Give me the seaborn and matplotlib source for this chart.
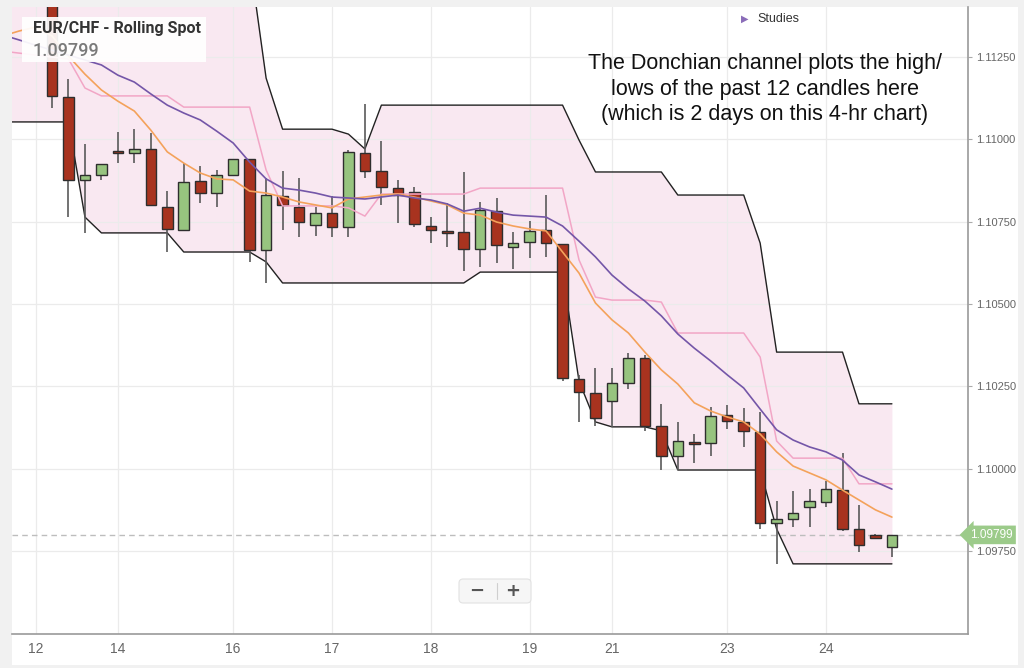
import numpy as np
import pandas as pd
import matplotlib
matplotlib.use("Agg")
import matplotlib.pyplot as plt
import matplotlib.transforms as mtransforms
from matplotlib.patches import Rectangle, FancyBboxPatch
from matplotlib.lines import Line2D
import seaborn as sns

# ---------------- data ----------------
symbol = "EUR/CHF - Rolling Spot"
last_price = 1.09799
note = ("The Donchian channel plots the high/\n"
        "lows of the past 12 candles here\n"
        "(which is 2 days on this 4-hr chart)")

opens = [1.11484, 1.11129, 1.10877, 1.10892, 1.10965, 1.10958, 1.10971, 1.10795,
         1.10725, 1.10874, 1.10837, 1.10892, 1.10940, 1.10664, 1.10828, 1.10795,
         1.10740, 1.10776, 1.10734, 1.10958, 1.10904, 1.10852, 1.10840, 1.10737,
         1.10722, 1.10719, 1.10667, 1.10782, 1.10673, 1.10688, 1.10725, 1.10682,
         1.10272, 1.10230, 1.10206, 1.10260, 1.10336, 1.10130, 1.10039, 1.10081,
         1.10078, 1.10163, 1.10142, 1.10111, 1.09835, 1.09847, 1.09884, 1.09899,
         1.09935, 1.09817, 1.09800, 1.09762]
highs = [1.11548, 1.11183, 1.10986, 1.10926, 1.11022, 1.11031, 1.11019, 1.10843,
         1.10928, 1.10919, 1.10907, 1.10941, 1.10941, 1.10883, 1.10904, 1.10883,
         1.10795, 1.10828, 1.10968, 1.11107, 1.10995, 1.10877, 1.10855, 1.10764,
         1.10807, 1.10901, 1.10810, 1.10822, 1.10719, 1.10752, 1.10831, 1.10683,
         1.10285, 1.10306, 1.10306, 1.10351, 1.10345, 1.10197, 1.10142, 1.10105,
         1.10187, 1.10193, 1.10184, 1.10172, 1.09902, 1.09932, 1.09938, 1.09963,
         1.10048, 1.09890, 1.09801, 1.09800]
lows = [1.11095, 1.10764, 1.10716, 1.10877, 1.10928, 1.10928, 1.10799, 1.10658,
        1.10724, 1.10807, 1.10795, 1.10891, 1.10628, 1.10564, 1.10725, 1.10704,
        1.10707, 1.10704, 1.10704, 1.10883, 1.10801, 1.10746, 1.10734, 1.10685,
        1.10673, 1.10600, 1.10612, 1.10625, 1.10606, 1.10640, 1.10643, 1.10266,
        1.10142, 1.10130, 1.10127, 1.10242, 1.10115, 1.09996, 1.09996, 1.10017,
        1.10039, 1.10121, 1.10066, 1.09817, 1.09711, 1.09823, 1.09823, 1.09884,
        1.09811, 1.09747, 1.09789, 1.09732]
closes = [1.11132, 1.10877, 1.10892, 1.10925, 1.10958, 1.10971, 1.10801, 1.10728,
          1.10870, 1.10837, 1.10892, 1.10940, 1.10664, 1.10831, 1.10801, 1.10749,
          1.10776, 1.10734, 1.10962, 1.10904, 1.10855, 1.10831, 1.10743, 1.10725,
          1.10716, 1.10667, 1.10785, 1.10679, 1.10685, 1.10722, 1.10685, 1.10275,
          1.10233, 1.10154, 1.10260, 1.10336, 1.10130, 1.10039, 1.10084, 1.10075,
          1.10160, 1.10145, 1.10115, 1.09835, 1.09847, 1.09866, 1.09902, 1.09938,
          1.09817, 1.09768, 1.09790, 1.09799]

# indicator series start 3 candles before the first visible candle
indicator_first_candle = -3
ma_fast = [1.11314, 1.11329, 1.11341, 1.11314, 1.11253, 1.11198, 1.11150, 1.11116,
           1.11086, 1.11028, 1.10962, 1.10928, 1.10898, 1.10880, 1.10877, 1.10843,
           1.10837, 1.10825, 1.10810, 1.10801, 1.10792, 1.10819, 1.10825, 1.10831,
           1.10834, 1.10825, 1.10813, 1.10801, 1.10776, 1.10770, 1.10749, 1.10737,
           1.10728, 1.10722, 1.10658, 1.10594, 1.10503, 1.10452, 1.10412, 1.10354,
           1.10300, 1.10257, 1.10200, 1.10175, 1.10157, 1.10142, 1.10105, 1.10051,
           1.10008, 1.09987, 1.09966, 1.09935, 1.09905, 1.09875, 1.09853]
ma_slow = [1.11317, 1.11302, 1.11286, 1.11271, 1.11256, 1.11241, 1.11226, 1.11195,
           1.11174, 1.11138, 1.11104, 1.11080, 1.11059, 1.11025, 1.10989, 1.10931,
           1.10880, 1.10852, 1.10846, 1.10837, 1.10825, 1.10822, 1.10819, 1.10825,
           1.10831, 1.10822, 1.10816, 1.10804, 1.10782, 1.10791, 1.10779, 1.10770,
           1.10767, 1.10764, 1.10737, 1.10691, 1.10643, 1.10588, 1.10546, 1.10509,
           1.10464, 1.10409, 1.10366, 1.10327, 1.10285, 1.10245, 1.10181, 1.10118,
           1.10087, 1.10066, 1.10051, 1.10026, 1.09981, 1.09960, 1.09938]
donchian_mid = [1.11268, 1.11262, 1.11256, 1.11250, 1.11244, 1.11156, 1.11132, 1.11132,
                1.11132, 1.11132, 1.11132, 1.11098, 1.11098, 1.11098, 1.11098, 1.11098,
                1.10907, 1.10798, 1.10798, 1.10798, 1.10798, 1.10792, 1.10767, 1.10834,
                1.10834, 1.10834, 1.10834, 1.10834, 1.10834, 1.10852, 1.10852, 1.10852,
                1.10852, 1.10852, 1.10852, 1.10634, 1.10521, 1.10512, 1.10512, 1.10512,
                1.10506, 1.10412, 1.10412, 1.10412, 1.10412, 1.10412, 1.10339, 1.10084,
                1.10032, 1.10032, 1.10032, 1.10032, 1.09954, 1.09954, 1.09954]
donchian_upper = [1.11459, 1.11459, 1.11459, 1.11459, 1.11459, 1.11548, 1.11548, 1.11548,
                  1.11548, 1.11548, 1.11548, 1.11548, 1.11548, 1.11548, 1.11548, 1.11548,
                  1.11186, 1.11031, 1.11031, 1.11031, 1.11031, 1.11016, 1.10971, 1.11104,
                  1.11104, 1.11104, 1.11104, 1.11104, 1.11104, 1.11104, 1.11104, 1.11104,
                  1.11104, 1.11104, 1.11104, 1.10998, 1.10901, 1.10901, 1.10901, 1.10901,
                  1.10901, 1.10831, 1.10831, 1.10831, 1.10831, 1.10831, 1.10685, 1.10354,
                  1.10354, 1.10354, 1.10354, 1.10354, 1.10197, 1.10197, 1.10197]
donchian_lower = [1.11053, 1.11053, 1.11053, 1.11053, 1.11053, 1.10764, 1.10716, 1.10716,
                  1.10716, 1.10716, 1.10716, 1.10658, 1.10658, 1.10658, 1.10658, 1.10658,
                  1.10628, 1.10564, 1.10564, 1.10564, 1.10564, 1.10564, 1.10564, 1.10564,
                  1.10564, 1.10564, 1.10564, 1.10564, 1.10564, 1.10597, 1.10597, 1.10597,
                  1.10597, 1.10597, 1.10597, 1.10266, 1.10142, 1.10127, 1.10127, 1.10127,
                  1.10115, 1.09996, 1.09996, 1.09996, 1.09996, 1.09996, 1.09996, 1.09817,
                  1.09711, 1.09711, 1.09711, 1.09711, 1.09711, 1.09711, 1.09711]

day_labels = ["12", "14", "16", "17", "18", "19", "21", "23", "24"]
day_first_candle = [-1, 4, 11, 17, 23, 29, 34, 41, 47]
price_ticks = [1.09750, 1.10000, 1.10250, 1.10500, 1.10750, 1.11000, 1.11250]

# ---------------- style ----------------
sns.set_theme(style="white")
plt.rcParams['font.family'] = ['Liberation Sans', 'DejaVu Sans']

W, H = 1024, 668
fig = plt.figure(figsize=(W / 100, H / 100), dpi=100, facecolor="#f1f1f1")

def fx(x):
    return x / W

def fy(y):
    return 1 - y / H

# white card
fig.patches.append(Rectangle((fx(12), fy(665)), fx(1018) - fx(12), fy(7) - fy(665),
                             transform=fig.transFigure, facecolor="white",
                             edgecolor="none", zorder=-5))

ax = fig.add_axes([fx(12), fy(634), fx(968) - fx(12), fy(7) - fy(634)])
ax.set_facecolor("white")

candles = pd.DataFrame({"open": opens, "high": highs, "low": lows, "close": closes})
candles["idx"] = np.arange(len(candles))
ind = pd.DataFrame({"fast": ma_fast, "slow": ma_slow, "mid": donchian_mid,
                    "upper": donchian_upper, "lower": donchian_lower})
ind["idx"] = np.arange(len(ind)) + indicator_first_candle

# Donchian fill
ax.fill_between(ind["idx"], ind["lower"], ind["upper"], color="#f9e8f1",
                linewidth=0, zorder=0.2)

# grid
ax.set_axisbelow(True)
ax.grid(True, color="#ebebeb", linewidth=0.9)

# Donchian bounds
sns.lineplot(data=ind, x="idx", y="upper", ax=ax, color="#222222", linewidth=1.0, zorder=2)
sns.lineplot(data=ind, x="idx", y="lower", ax=ax, color="#222222", linewidth=1.0, zorder=2)

# current price line
ax.axhline(last_price, color="#bdbdbd", linewidth=1, linestyle=(0, (4, 3)), zorder=1.5)

# candles
up = candles["close"] >= candles["open"]
body_bottom = np.minimum(candles["open"], candles["close"])
body_h = np.maximum(np.abs(candles["close"] - candles["open"]), 0.00003)
ax.vlines(candles["idx"], candles["low"], candles["high"], color="#5a5a5a",
          linewidth=1.2, zorder=3)
ax.bar(candles["idx"], body_h, bottom=body_bottom, width=0.64,
       color=np.where(up, "#97c47f", "#a8331f"), edgecolor="#2e2e2e",
       linewidth=1.0, zorder=4)

# moving averages and Donchian middle
sns.lineplot(data=ind, x="idx", y="mid", ax=ax, color="#f2a6c6", linewidth=1.1, zorder=5)
sns.lineplot(data=ind, x="idx", y="fast", ax=ax, color="#f4a25b", linewidth=1.2, zorder=5)
sns.lineplot(data=ind, x="idx", y="slow", ax=ax, color="#7456a8", linewidth=1.2, zorder=5)

# axes limits / ticks
ax.set_xlim(-2.43, 55.62)
ax.set_ylim(1.09498, 1.11402)
ax.set_xlabel("")
ax.set_ylabel("")
ax.set_xticks(day_first_candle)
ax.set_xticklabels(day_labels)
ax.set_yticks(price_ticks)
ax.set_yticklabels([f"{v:.5f}" for v in price_ticks])
ax.yaxis.tick_right()
ax.tick_params(axis="y", which="both", right=True, left=False, labelright=True,
               labelleft=False, length=3, width=0.8, color="#aaaaaa", pad=3,
               labelsize=8, labelcolor="#666666")
ax.tick_params(axis="x", length=0, pad=6, labelsize=10, labelcolor="#666666")
for lab in ax.get_xticklabels():
    lab.set_family(['Liberation Sans Narrow', 'Liberation Sans', 'DejaVu Sans'])
for s in ["top", "left"]:
    ax.spines[s].set_visible(False)
for s in ["right", "bottom"]:
    ax.spines[s].set_color("#9a9a9a")
    ax.spines[s].set_linewidth(1.2)

# current price tag
tr = mtransforms.blended_transform_factory(ax.transAxes, ax.transData)
ax.text(1.002, last_price, f"{last_price:.5f}", transform=tr, ha="left", va="center",
        fontsize=8.5, color="white", clip_on=False, zorder=10,
        bbox=dict(boxstyle="larrow,pad=0.28", fc="#9ccb8a", ec="none"))

# symbol box
fig.patches.append(Rectangle((fx(22), fy(62)), fx(206) - fx(22), fy(17) - fy(62),
                             transform=fig.transFigure, facecolor="white", alpha=0.93,
                             edgecolor="none", zorder=6))
fig.text(fx(33), fy(29), symbol, ha="left", va="center", fontsize=11.5,
         fontweight="bold", color="#333333", family=['Roboto', 'DejaVu Sans'], zorder=7)
fig.text(fx(33), fy(51), f"{last_price:.5f}", ha="left", va="center", fontsize=13,
         fontweight="medium", color="#7a7a7a", family=['Roboto', 'DejaVu Sans'], zorder=7)

# studies menu
fig.text(fx(741), fy(19), "\u25B6", ha="left", va="center", fontsize=7,
         color="#8a6cb8", family=['DejaVu Sans'], zorder=7)
fig.text(fx(757), fy(19), "Studies", ha="left", va="center", fontsize=9,
         color="#333333", zorder=7)

# annotation
fig.text(fx(765), fy(89), note, ha="center", va="center", fontsize=15.5,
         color="#111111", linespacing=1.3, zorder=7)

# zoom buttons
fig.patches.append(FancyBboxPatch((fx(459), fy(603)), fx(531) - fx(459), fy(579) - fy(603),
                                  boxstyle="round,pad=0,rounding_size=0.004",
                                  mutation_aspect=W / H, transform=fig.transFigure,
                                  facecolor="#f6f6f6", edgecolor="#e2e2e2",
                                  linewidth=0.8, zorder=6))
fig.lines.append(Line2D([fx(497), fx(497)], [fy(599), fy(583)], transform=fig.transFigure,
                        color="#cfcfcf", linewidth=0.8, zorder=7))
fig.text(fx(477), fy(591), "\u2212", ha="center", va="center", fontsize=13,
         fontweight="bold", color="#555555", family=['DejaVu Sans'], zorder=8)
fig.text(fx(513), fy(591), "+", ha="center", va="center", fontsize=13,
         fontweight="bold", color="#555555", family=['DejaVu Sans'], zorder=8)

fig.savefig("out.png", dpi=100, facecolor=fig.get_facecolor())
